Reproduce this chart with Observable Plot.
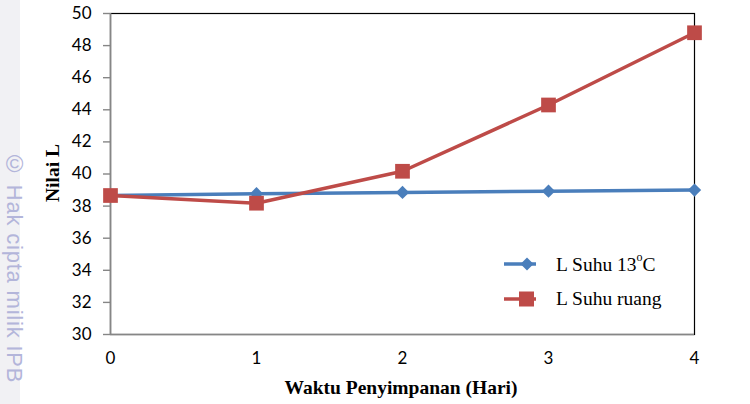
<!DOCTYPE html>
<html><head><meta charset="utf-8">
<script src="https://cdn.jsdelivr.net/npm/d3@7"></script>
<script src="https://cdn.jsdelivr.net/npm/@observablehq/plot@0.6"></script>
<style>
body{margin:0;background:#fff;}
#wrap{position:relative;width:750px;height:404px;overflow:hidden;background:#fff;}
#wm{position:absolute;left:0;top:0;width:20px;height:404px;background:#f1f1f4;}
#wmtext{position:absolute;left:1px;top:150px;writing-mode:vertical-rl;font-family:"Liberation Sans",Arial,sans-serif;color:#b3b5da;font-size:22px;line-height:26px;letter-spacing:0.8px;white-space:nowrap;}
#wmtext .c{font-size:24px;}
.ytitle{position:absolute;left:53px;top:173px;transform:translate(-50%,-50%) rotate(-90deg);font-family:"Liberation Serif","Times New Roman",serif;font-weight:bold;font-size:19.5px;white-space:nowrap;}
.xtitle{position:absolute;left:401px;top:388px;transform:translate(-50%,-50%);font-family:"Liberation Serif","Times New Roman",serif;font-weight:bold;font-size:19.5px;white-space:nowrap;}
.legend{position:absolute;left:503px;top:246px;font-family:"Liberation Serif","Times New Roman",serif;font-size:19.5px;}
.legend .item{display:flex;align-items:center;height:35px;}
.legend svg{margin-right:19px;}
.legend sup{font-size:12px;position:relative;top:-2px;}
</style></head><body>
<div id="wrap"></div>
<script>
const days = [0, 1, 2, 3, 4];
const seriesNames = ["L Suhu 13°C", "L Suhu ruang"];
const suhu13 = [38.66, 38.77, 38.85, 38.93, 39.0];
const suhuRuang = [38.66, 38.18, 40.17, 44.3, 48.8];
const xTicks = [0, 1, 2, 3, 4];
const yTicks = [30, 32, 34, 36, 38, 40, 42, 44, 46, 48, 50];
const colors = ["#4A7EBB", "#BE4B48"];

const rows13 = days.map((d, i) => ({day: d, value: suhu13[i], series: seriesNames[0]}));
const rowsRuang = days.map((d, i) => ({day: d, value: suhuRuang[i], series: seriesNames[1]}));

const chart = Plot.plot({
  width: 750, height: 404,
  marginLeft: 110, marginRight: 56, marginTop: 13, marginBottom: 70,
  style: {fontFamily: "Lato, sans-serif", fontSize: "17px", color: "#000", background: "transparent"},
  x: {domain: [0, 4], label: null},
  y: {domain: [30, 50], label: null},
  color: {domain: seriesNames, range: colors},
  marks: [
    Plot.frame({stroke: "#000", strokeWidth: 1.2}),
    Plot.ruleX([0], {stroke: "#868686", strokeWidth: 1.6}),
    Plot.ruleY([30], {stroke: "#868686", strokeWidth: 1.6}),
    Plot.axisY({ticks: yTicks, tickSize: 7, tickPadding: 12, tickFormat: "d", label: null}),
    Plot.axisX({ticks: xTicks, tickSize: 0, tickPadding: 17, tickFormat: "d", label: null}),
    Plot.line(rows13, {x: "day", y: "value", stroke: "series", strokeWidth: 3.5}),
    Plot.dot(rows13, {x: "day", y: "value", fill: "series", symbol: "diamond2", r: 6}),
    Plot.line(rowsRuang, {x: "day", y: "value", stroke: "series", strokeWidth: 3.5}),
    Plot.dot(rowsRuang, {x: "day", y: "value", fill: "series", symbol: "square", r: 8.3})
  ]
});
d3.select(chart).selectAll('g[aria-label="y-axis tick"]').attr("stroke", "#868686").attr("stroke-width", 1.4);

const wrap = document.getElementById("wrap");
wrap.innerHTML = `<div id="wm"></div><div id="wmtext"><span class="c">©</span> Hak cipta milik IPB</div>`;
wrap.appendChild(chart);
chart.style.position = "absolute"; chart.style.left = "0"; chart.style.top = "0";

const yt = document.createElement("div"); yt.className = "ytitle"; yt.textContent = "Nilai L"; wrap.appendChild(yt);
const xt = document.createElement("div"); xt.className = "xtitle"; xt.textContent = "Waktu Penyimpanan (Hari)"; wrap.appendChild(xt);

const legend = document.createElement("div"); legend.className = "legend";
const icons = [
  `<svg width="34" height="16"><line x1="1" y1="8" x2="33" y2="8" stroke="${colors[0]}" stroke-width="3.5"/><path d="M24,1.5 L30.5,8 L24,14.5 L17.5,8Z" fill="${colors[0]}"/></svg>`,
  `<svg width="34" height="16"><line x1="1" y1="8" x2="33" y2="8" stroke="${colors[1]}" stroke-width="3.5"/><rect x="16" y="0.5" width="15" height="15" fill="${colors[1]}"/></svg>`
];
const labels = [`L Suhu 13<sup>o</sup>C`, `L Suhu ruang`];
legend.innerHTML = icons.map((ic, i) => `<div class="item">${ic}<span>${labels[i]}</span></div>`).join("");
wrap.appendChild(legend);
</script>
</body></html>
